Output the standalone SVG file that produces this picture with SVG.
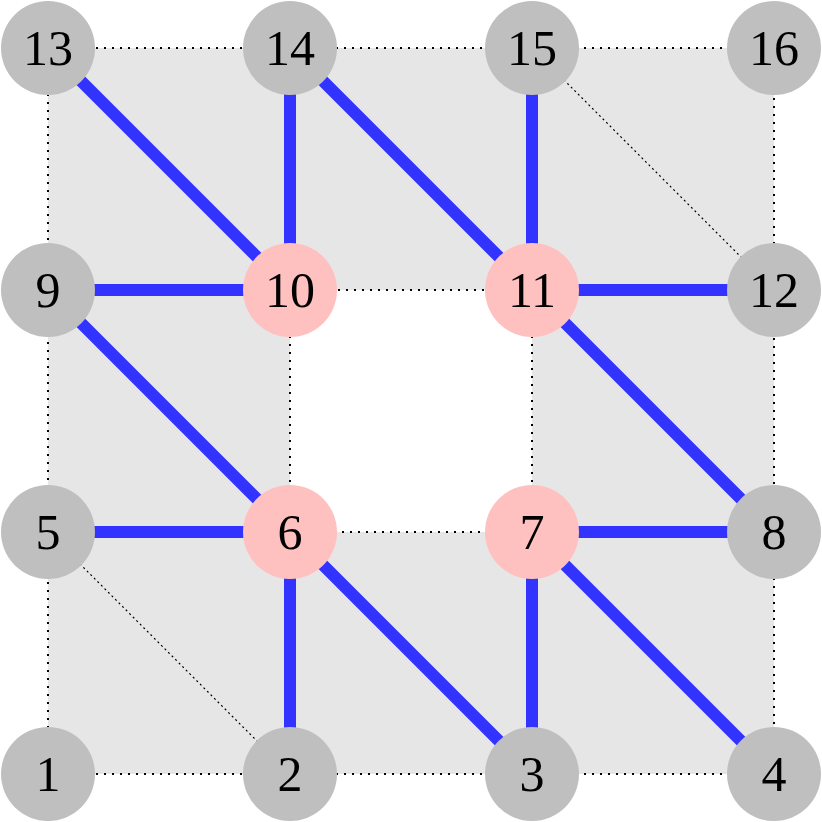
<svg xmlns="http://www.w3.org/2000/svg" width="822" height="822" viewBox="0 0 822 822">
<style>
.d{stroke:#000;stroke-width:2;stroke-dasharray:2 6;fill:none}
.t{stroke:#000;stroke-width:1.2;stroke-dasharray:2 3;fill:none}
.b{stroke:#3333ff;stroke-width:12;fill:none}
.g{fill:#bfbfbf}.p{fill:#ffc0c0}
text{font-family:"Liberation Serif",serif;font-size:50px;text-anchor:middle;dominant-baseline:central;fill:#000}
</style>
<path d="M48 48H774V774H48Z M290 290V532H532V290Z" fill="#e6e6e6" fill-rule="evenodd"/>
<g id="connectors">
<path class="d" d="M48 48H774V774H48Z M290 290H532V532H290Z"/>
<path class="t" d="M532 48L774 290 M48 532L290 774"/>
<path class="b" d="M48 48L290 290 M290 48V290 M290 48L532 290 M532 48V290 M48 290H290 M532 290H774 M48 290L290 532 M532 290L774 532 M48 532H290 M532 532H774 M290 532V774 M290 532L532 774 M532 532V774 M532 532L774 774"/>
</g>
<g id="n1"><circle class="g" cx="48" cy="774" r="47"/><text x="48" y="774">1</text></g>
<g id="n2"><circle class="g" cx="290" cy="774" r="47"/><text x="290" y="774">2</text></g>
<g id="n3"><circle class="g" cx="532" cy="774" r="47"/><text x="532" y="774">3</text></g>
<g id="n4"><circle class="g" cx="774" cy="774" r="47"/><text x="774" y="774">4</text></g>
<g id="n5"><circle class="g" cx="48" cy="532" r="47"/><text x="48" y="532">5</text></g>
<g id="n6"><circle class="p" cx="290" cy="532" r="47"/><text x="290" y="532">6</text></g>
<g id="n7"><circle class="p" cx="532" cy="532" r="47"/><text x="532" y="532">7</text></g>
<g id="n8"><circle class="g" cx="774" cy="532" r="47"/><text x="774" y="532">8</text></g>
<g id="n9"><circle class="g" cx="48" cy="290" r="47"/><text x="48" y="290">9</text></g>
<g id="n10"><circle class="p" cx="290" cy="290" r="47"/><text x="290" y="290">10</text></g>
<g id="n11"><circle class="p" cx="532" cy="290" r="47"/><text x="532" y="290">11</text></g>
<g id="n12"><circle class="g" cx="774" cy="290" r="47"/><text x="774" y="290">12</text></g>
<g id="n13"><circle class="g" cx="48" cy="48" r="47"/><text x="48" y="48">13</text></g>
<g id="n14"><circle class="g" cx="290" cy="48" r="47"/><text x="290" y="48">14</text></g>
<g id="n15"><circle class="g" cx="532" cy="48" r="47"/><text x="532" y="48">15</text></g>
<g id="n16"><circle class="g" cx="774" cy="48" r="47"/><text x="774" y="48">16</text></g>
</svg>
